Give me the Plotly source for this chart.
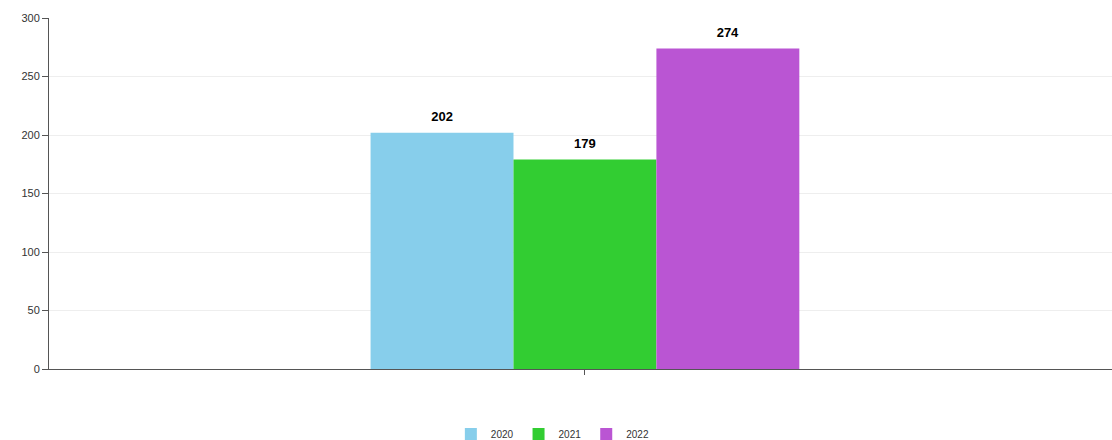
import plotly.graph_objects as go

categories = ["Total"]
series_names = ["2020", "2021", "2022"]
series_values = [[202], [179], [274]]
colors = ["#87CEEB", "#32CD32", "#BA55D3"]
y_ticks = [0, 50, 100, 150, 200, 250, 300]

fig = go.Figure()
for name, vals, col in zip(series_names, series_values, colors):
    fig.add_trace(go.Bar(
        x=categories, y=vals, name=name, marker=dict(color=col, line=dict(width=0)),
        text=vals,
        texttemplate="<span style='font-size:13px'><b>%{text}</b></span><br>&nbsp;",
        textposition="outside",
        textfont=dict(size=6, color="#000000", family="Liberation Sans, Arial, sans-serif"),
        cliponaxis=False,
    ))

fig.update_layout(
    width=1112, height=440,
    margin=dict(l=49, r=0, t=18, b=71, autoexpand=False),
    paper_bgcolor="white", plot_bgcolor="white",
    barmode="group", bargap=0.6, bargroupgap=0,
    font=dict(family="Liberation Sans, Arial, sans-serif", size=11, color="#333333"),
    showlegend=True,
    legend=dict(orientation="h", x=0.474, xanchor="center",
                y=-0.185, yanchor="middle",
                font=dict(size=10, color="#333333"), itemwidth=30, traceorder="normal"),
)
fig.update_xaxes(
    type="category", range=[-0.5, 0.4917], showticklabels=False,
    showline=True, linecolor="#555555", linewidth=1,
    ticks="outside", ticklen=5, tickcolor="#555555", showgrid=False, zeroline=False,
)
fig.update_yaxes(
    range=[0, 300], tickvals=y_ticks, showline=True, linecolor="#555555", linewidth=1,
    ticks="outside", ticklen=6, tickcolor="#555555",
    showgrid=True, gridcolor="#eeeeee", gridwidth=1, zeroline=False,
    tickfont=dict(size=11, color="#333333"),
)

fig.write_html(
    "out.html",
    config={"displayModeBar": False},
    post_script="document.body.style.margin='0px';document.body.style.overflow='hidden';",
)
